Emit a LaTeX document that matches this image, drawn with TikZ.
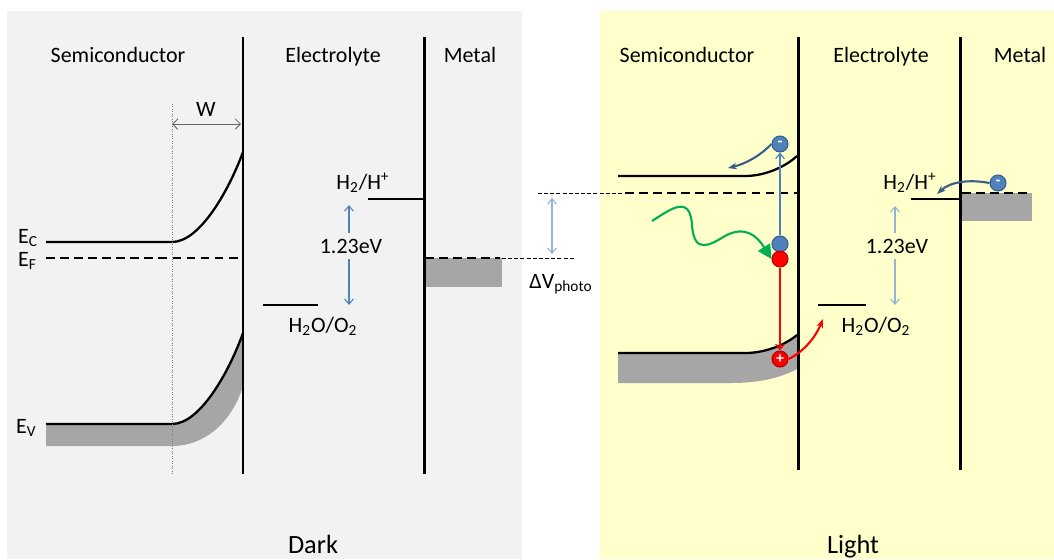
\documentclass[tikz,border=0pt]{standalone}
\usepackage{fontspec}
\setmainfont{Carlito}
\usetikzlibrary{arrows.meta,positioning}
\definecolor{darkbg}{HTML}{F2F2F2}
\definecolor{lightbg}{HTML}{FFFFCC}
\definecolor{band}{HTML}{A6A6A6}
\definecolor{eblue}{HTML}{4F81BD}
\definecolor{eedge}{HTML}{385D8A}
\definecolor{paleblue}{HTML}{95B3D7}
\definecolor{photon}{HTML}{00B050}
\tikzset{wall/.style={line width=1.7pt},lvl/.style={line width=1.3pt},
 fermi/.style={line width=1.3pt,dash pattern=on 5pt off 3pt},
 thindash/.style={line width=0.5pt,dash pattern=on 2.3pt off 1.2pt},
 gaparrow/.style={line width=0.6pt,-{Straight Barb[length=3pt,width=5pt]}},
 elec/.style={circle,draw=eedge,fill=eblue,line width=0.6pt,minimum size=0.32cm,inner sep=0pt,text=white,font=\fontsize{9}{9}\bfseries},
 hole/.style={elec,draw=red!70!black,fill=red},
 lbl/.style={inner sep=1pt},title/.style={inner sep=1pt,anchor=base}}

\begin{document}
\begin{tikzpicture}[x=0.02cm,y=-0.02cm,font=\fontsize{12.5}{15}\selectfont]
\useasboundingbox (0,0) rectangle (1054,559);
\fill[darkbg] (7,11) rectangle (522,559);\fill[lightbg] (600,11) rectangle (1054,559);
\node[title] (semiL) at (118,62) {Semiconductor};\node[title] (elyL) at (333,62) {Electrolyte};\node[title] (metL) at (470,62) {Metal};
\node[title] (semiR) at (687,62) {Semiconductor};\node[title] (elyR) at (881,62) {Electrolyte};\node[title] (metR) at (1020,62) {Metal};
\node[title,font=\fontsize{15}{18}\selectfont] (dark) at (313,553) {Dark};\node[title,font=\fontsize{15}{18}\selectfont] (light) at (853,553) {Light};
% dark
\fill[band] (46,424) -- (172,424) .. controls (200,424) and (229,372) .. (243,333) -- (243,386) .. controls (232,422) and (205,446) .. (172,446) -- (46,446) -- cycle;
\draw[lvl] (46,242) -- (172,242) .. controls (200,242) and (229,190) .. (243,152);
\draw[lvl] (46,424) -- (172,424) .. controls (200,424) and (229,372) .. (243,333);
\draw[fermi] (46,258) -- (238,258);
\node[lbl,anchor=west] (ec) at (16,238) {E\textsubscript{C}};\node[lbl,anchor=west] (ef) at (16,261) {E\textsubscript{F}};\node[lbl,anchor=west] (ev) at (14,428) {E\textsubscript{V}};
\draw[gray,line width=0.4pt,densely dotted] (172,104) -- (172,474);
\coordinate (wa) at (172,124);\coordinate (wb) at (241,124);\node[lbl] (w) at (206,109) {W};
\draw[gray!80!black,line width=0.5pt,{Straight Barb[length=3pt,width=6pt]}-{Straight Barb[length=3pt,width=6pt]}] (wa) -- (wb);
\fill[band] (425,258) rectangle (502,287);\draw[fermi] (425,258) -- (500,258);\draw[thindash] (502,258) -- (575,258);
\draw[lvl] (368,199) -- (424,199);\draw[lvl] (263,305) -- (318,305);
\node[lbl] (hL) at (363,183) {H\textsubscript{2}/H\textsuperscript{+}};\node[lbl] (oL) at (323,326) {H\textsubscript{2}O/O\textsubscript{2}};
\node[lbl] (gapL) at (351,246) {1.23eV};\coordinate (hLtop) at (349,205);\coordinate (oLbot) at (349,305);
\draw[eblue,gaparrow] (gapL.north -| hLtop) ++(0,-4) -- (hLtop);\draw[eblue,gaparrow] (gapL.south -| oLbot) ++(0,4) -- (oLbot);
\draw[wall] (243,37) -- (243,474);\draw[wall] (424,37) -- (424,474);
% light
\draw[thindash] (538,193) -- (622,193);\coordinate (dvtop) at (552,198);\coordinate (dvbot) at (552,254);
\draw[paleblue,line width=0.6pt,{Straight Barb[length=3pt,width=5pt]}-{Straight Barb[length=3pt,width=5pt]}] (dvtop) -- (dvbot);
\node[lbl] (dv) at (561,284) {ΔV\textsubscript{photo}};
\fill[band] (618,353) -- (745,353) .. controls (765,353) and (785,345) .. (797,335) -- (797,369) .. controls (780,378) and (760,383) .. (730,383) -- (618,383) -- cycle;
\draw[lvl] (618,176) -- (745,176) .. controls (765,176) and (785,167) .. (797,156);
\draw[lvl] (618,353) -- (745,353) .. controls (765,353) and (785,345) .. (797,335);
\draw[fermi] (625,193) -- (797,193);
\fill[band] (962,193) rectangle (1032,221);\draw[fermi] (962,193) -- (1032,193);
\draw[lvl] (911,199) -- (960,199);\draw[lvl] (818,305) -- (866,305);
\node[lbl] (hR) at (910,183) {H\textsubscript{2}/H\textsuperscript{+}};\node[lbl] (oR) at (876,326) {H\textsubscript{2}O/O\textsubscript{2}};
\node[lbl] (gapR) at (897,246) {1.23eV};\coordinate (hRtop) at (895,206);\coordinate (oRbot) at (895,305);
\draw[paleblue,gaparrow] (gapR.north -| hRtop) ++(0,-4) -- (hRtop);\draw[paleblue,gaparrow] (gapR.south -| oRbot) ++(0,4) -- (oRbot);
\draw[wall] (798,37) -- (798,470);\draw[wall] (960,37) -- (960,470);
\node[elec] (cb) at (780,144) {-};\node[elec] (ex) at (780,244) {};\node[hole] (hx) at (780,259) {};
\node[hole] (vb) at (780,359) {+};\node[elec] (me) at (998,183) {-};
\draw[eblue,line width=0.7pt,-{Straight Barb[length=3pt,width=5pt]}] (ex) -- (cb);
\draw[red,line width=0.7pt,-{Straight Barb[length=3pt,width=5pt]}] (hx) -- (vb);
\coordinate (cbend) at (728,168);\coordinate (vbend) at (823,319);\coordinate (meend) at (937,194);\coordinate (ph) at (652,221);
\draw[eedge,line width=1.2pt,-{Stealth[length=5pt]}] (cb.west) .. controls (760,156) and (745,164) .. (cbend);
\draw[red,line width=1.2pt,-{Stealth[length=5pt]}] (vb.east) .. controls (805,351) and (816,336) .. (vbend);
\draw[eedge,line width=1.2pt,-{Stealth[length=5pt]}] (me.west) .. controls (968,179) and (950,182) .. (meend);
\draw[photon,line width=1.2pt,-{Triangle[length=8pt,width=8pt]}] (ph) .. controls (672,208) and (690,195) .. (692,225) .. controls (694,255) and (710,245) .. (725,236) .. controls (745,225) and (757,236) .. (hx.west);
\end{tikzpicture}
\end{document}
